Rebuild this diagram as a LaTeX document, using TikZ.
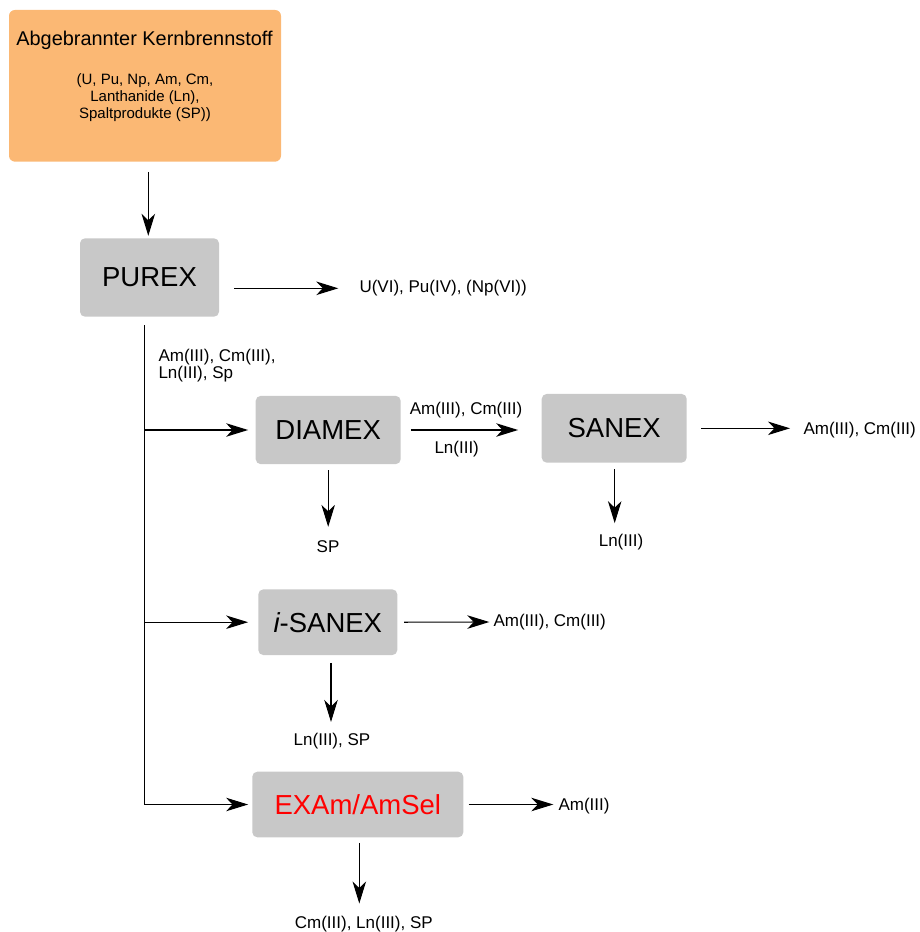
\documentclass[tikz,border=0pt]{standalone}
\usepackage{fontspec}
\setmainfont{Liberation Sans}
\usetikzlibrary{arrows.meta,calc}
\definecolor{fuelorange}{HTML}{FBB874}
\definecolor{boxgray}{HTML}{C8C8C8}
\definecolor{examred}{HTML}{FF0000}
\begin{document}
\begin{tikzpicture}[x=1pt,y=-1pt,
  arr/.style={line width=1.1pt, -{Stealth[length=22pt,width=13.5pt,inset=6.5pt]}},
  proc/.style={fill=boxgray, rounded corners=5pt, inner sep=0pt, font=\fontsize{27.5}{30}\selectfont},
  lbl/.style={inner sep=0pt, font=\fontsize{17}{18}\selectfont},
]
\useasboundingbox (0,0) rectangle (919,932);
% source box
\node[fill=fuelorange, rounded corners=6pt, minimum width=272pt, minimum height=151.7pt, inner sep=0pt] (fuel) at (145,85.8) {};
\node[inner sep=0pt, font=\fontsize{19.9}{22}\selectfont] (title) at (144.5,40.5) {Abgebrannter Kernbrennstoff};
\node[inner sep=0pt, align=center, font=\fontsize{15}{16.8}\selectfont] (comp) at (145,97.5) {(U, Pu, Np, Am, Cm,\\Lanthanide (Ln),\\Spaltprodukte (SP))};
% process boxes
\node[proc, minimum width=139pt, minimum height=78.4pt] (purex) at (149.5,277.5) {PUREX};
\node[proc, minimum width=145pt, minimum height=68.3pt] (diamex) at (328.2,430) {DIAMEX};
\node[proc, minimum width=145pt, minimum height=68.7pt] (sanex) at (614.2,428.3) {SANEX};
\node[proc, minimum width=139pt, minimum height=65.7pt] (isanex) at (327.8,622.2) {{\itshape i}-SANEX};
\node[proc, minimum width=211pt, minimum height=65.6pt, text=examred] (examsel) at (357.8,804.5) {EXAm/AmSel};
% labels
\node[lbl, anchor=west] (purexout) at (359.3,288.3) {U(VI), Pu(IV), (Np(VI))};
\node[lbl, anchor=west, align=left, font=\fontsize{17}{17}\selectfont] (trunklbl) at (158.3,365.5) {Am(III), Cm(III),\\Ln(III), Sp};
\node[lbl] (dslbla) at (466,410) {Am(III), Cm(III)};
\node[lbl] (dslblb) at (456.7,449.5) {Ln(III)};
\node[lbl, anchor=west] (sanexout) at (803.3,430) {Am(III), Cm(III)};
\node[lbl] (dsp) at (328,547) {SP};
\node[lbl] (sanexdown) at (621,542) {Ln(III)};
\node[lbl, anchor=west] (isanexout) at (493.3,622) {Am(III), Cm(III)};
\node[lbl] (isanexdown) at (332,741.5) {Ln(III), SP};
\node[lbl, anchor=west] (examselout) at (558.3,806) {Am(III)};
\node[lbl] (examseldown) at (363.8,924) {Cm(III), Ln(III), SP};
% trunk
\coordinate (trunktop) at ($(purex.south)+(-5,8.3)$);
% connectors
\draw[arr] ($(fuel.south)+(3.3,10)$) -- ($(purex.north)+(-1.2,-2.3)$);
\draw[arr] ($(purex.east |- purexout.west)+(15,0)$) -- ($(purexout.west)+(-21,0)$);
\draw[arr] (trunktop) |- ($(examsel.west)+(-4,0)$);
\draw[arr] (trunktop |- diamex.west) -- ($(diamex.west)+(-7.4,0)$);
\draw[arr] (trunktop |- isanex.west) -- ($(isanex.west)+(-10,0)$);
\draw[arr] ($(diamex.east)+(10,0)$) -- ($(sanex.west |- diamex.east)+(-23.4,0)$);
\draw[arr] ($(sanex.east)+(14.3,0)$) -- ($(sanexout.west |- sanex.east)+(-13.3,0)$);
\draw[arr] ($(isanex.east)+(6.7,0)$) -- ($(isanexout.west)+(-4,0)$);
\draw[arr] ($(examsel.east)+(5,0)$) -- ($(examselout.west |- examsel.east)+(-5,0)$);
\draw[arr] ($(diamex.south)+(0,5.8)$) -- ($(diamex.south)+(0,62.5)$);
\draw[arr] ($(sanex.south)+(0.5,6.3)$) -- ($(sanex.south)+(0.5,60.3)$);
\draw[arr] ($(isanex.south)+(3.2,7.7)$) -- ($(isanex.south)+(3.2,66.7)$);
\draw[arr] ($(examsel.south)+(1.5,5.4)$) -- ($(examsel.south)+(1.5,66)$);
\end{tikzpicture}
\end{document}
